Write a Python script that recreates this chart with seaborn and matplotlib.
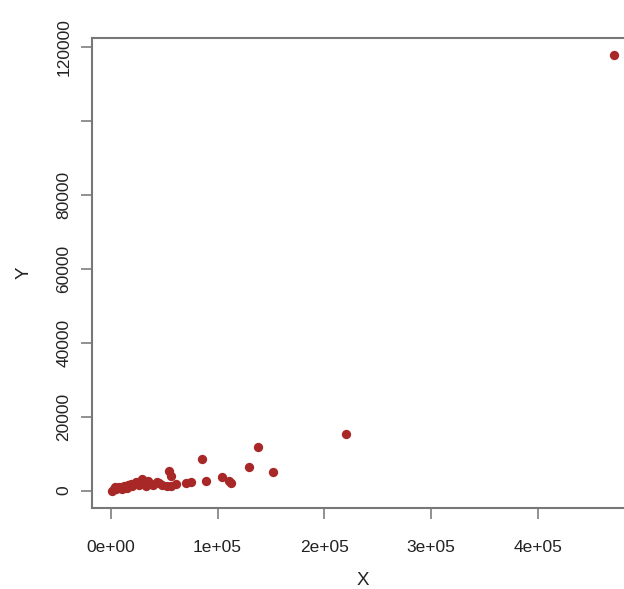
import numpy as np
import pandas as pd
import matplotlib
matplotlib.use("Agg")
import matplotlib.pyplot as plt
import seaborn as sns

x_vals = [1200, 2800, 5000, 7500, 9000, 12200, 15000, 18500, 20000, 23200,
          26000, 29400, 32600, 35000, 37300, 40000, 43500, 48200, 54500, 56000,
          56000, 60700, 70100, 74800, 88900, 104500, 110800, 112400, 85700, 129600,
          138000, 151500, 220400, 471000, 3500, 10500, 16500, 31000, 45000, 52900]
y_vals = [0, 450, 300, 900, 700, 1350, 800, 1800, 1200, 2250,
          1500, 3150, 1350, 2600, 1800, 1500, 2250, 1600, 5400, 4050,
          1350, 1800, 2000, 2250, 2500, 3800, 2700, 2000, 8600, 6300,
          11700, 5100, 15300, 117800, 900, 500, 1400, 2000, 2000, 1350]
y_ticks = [0, 20000, 40000, 60000, 80000, 100000, 120000]
y_tick_labels = ["0", "20000", "40000", "60000", "80000", "", "120000"]
x_ticks = [0, 100000, 200000, 300000, 400000]
x_tick_labels = ["0e+00", "1e+05", "2e+05", "3e+05", "4e+05"]

df = pd.DataFrame({"X": x_vals, "Y": y_vals})

sns.set_style("white")
plt.rcParams['font.family'] = ['Liberation Sans', 'DejaVu Sans']

fig = plt.figure(figsize=(6.24, 5.89), dpi=100)
ax = fig.add_axes([0.1474, 0.1375, 0.8686, 0.798])
sns.scatterplot(data=df, x="X", y="Y", ax=ax, color="#A82828", s=45,
                edgecolor="#A82828", linewidth=0)

# R-style 4% padding on both axes
xr = max(x_vals) - min(x_vals)
yr = max(y_vals) - min(y_vals)
ax.set_xlim(min(x_vals) - 0.04 * xr, max(x_vals) + 0.04 * xr)
ax.set_ylim(min(y_vals) - 0.04 * yr, max(y_vals) + 0.04 * yr)

ax.set_xticks(x_ticks)
ax.set_xticklabels(x_tick_labels, fontsize=12.5, color="#222222")
ax.set_yticks(y_ticks)
ax.set_yticklabels(y_tick_labels, fontsize=12.5, color="#222222", rotation=90, va="center")
ax.tick_params(axis="both", direction="out", length=8, width=1.3, color="#888888",
               bottom=True, left=True)
ax.tick_params(axis="x", pad=15)
ax.tick_params(axis="y", pad=7)
for sp in ax.spines.values():
    sp.set_color("#777777")
    sp.set_linewidth(1.5)

ax.set_xlabel("X", fontsize=13.5, color="#222222", labelpad=12)
ax.set_ylabel("Y", fontsize=13.5, color="#222222", labelpad=17)

fig.savefig("out.png", dpi=100)
